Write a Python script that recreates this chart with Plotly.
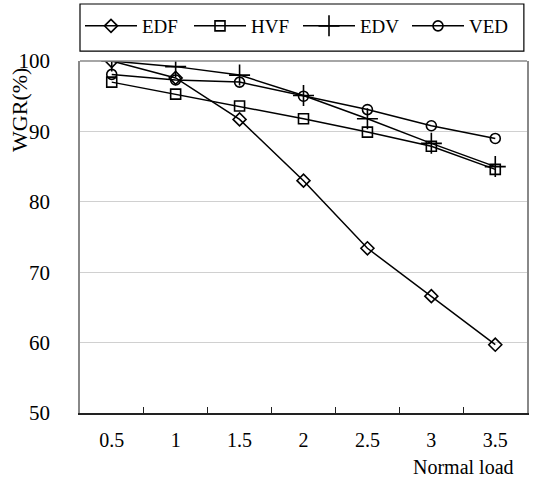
import plotly.graph_objects as go

loads = ["0.5", "1", "1.5", "2", "2.5", "3", "3.5"]
edf = [100.0, 97.6, 91.7, 83.0, 73.4, 66.6, 59.7]
hvf = [97.0, 95.3, 93.6, 91.8, 89.9, 87.9, 84.6]
edv = [100.0, 99.2, 98.0, 95.1, 91.8, 88.3, 85.0]
ved = [98.1, 97.3, 97.0, 95.0, 93.1, 90.8, 89.0]

series = [
    ("EDF", edf, "diamond-open", 10),
    ("HVF", hvf, "square-open", 10),
    ("EDV", edv, "cross-thin-open", 15),
    ("VED", ved, "circle-open", 10),
]

FONT = "Liberation Serif, Times New Roman, serif"
FS = 21
W, H = 541, 479

fig = go.Figure()
for name, vals, sym, sz in series:
    fig.add_trace(go.Scatter(
        x=loads, y=vals, name=name, mode="lines+markers",
        line=dict(color="black", width=1.5),
        marker=dict(symbol=sym, size=sz, color="black",
                    line=dict(color="black", width=1.6)),
    ))

fig.update_layout(
    width=W, height=H,
    margin=dict(l=80, r=14, t=61, b=66, autoexpand=False),
    paper_bgcolor="white", plot_bgcolor="white",
    font=dict(family=FONT, size=FS, color="black"),
    showlegend=True,
    legend=dict(
        orientation="h", xref="container", yref="container",
        x=80 / W, xanchor="left", y=1 - 26 / H, yanchor="middle",
        borderwidth=0, bgcolor="rgba(0,0,0,0)",
        font=dict(family=FONT, size=19),
        itemwidth=52, entrywidth=42,
    ),
    xaxis=dict(
        type="category", tickson="boundaries", ticks="inside", ticklen=6,
        tickcolor="#222", showline=True, linecolor="#222", linewidth=1.5,
        mirror=False, showgrid=False, ticklabelstandoff=8, automargin=False,
        tickfont=dict(family=FONT, size=20),
    ),
    yaxis=dict(
        range=[50, 100], dtick=10, showline=True, linecolor="#888",
        linewidth=1.5, mirror=True, showgrid=True, gridcolor="#d0d0d0",
        ticks="", zeroline=False, ticklabelstandoff=24, automargin=False,
        tickfont=dict(family=FONT, size=FS),
    ),
    shapes=[
        dict(type="line", xref="paper", yref="paper", x0=0, x1=1, y0=1, y1=1,
             line=dict(color="#888", width=1.5)),
        dict(type="rect", xref="paper", yref="paper", x0=0, x1=0.993,
             y0=1.028, y1=1.162, line=dict(color="black", width=1.2),
             fillcolor="rgba(0,0,0,0)"),
    ],
    annotations=[
        dict(text="WGR(%)", xref="paper", yref="paper", x=-0.135, y=0.86,
             textangle=-90, showarrow=False, xanchor="center", yanchor="middle",
             font=dict(family=FONT, size=22)),
        dict(text="Normal load", xref="paper", yref="paper", x=0.975, y=-0.116,
             showarrow=False, xanchor="right", yanchor="top",
             font=dict(family=FONT, size=20)),
    ],
)

fig.write_html("out.html", config={"displayModeBar": False},
               post_script="document.body.style.margin='0';document.body.style.padding='0';")
